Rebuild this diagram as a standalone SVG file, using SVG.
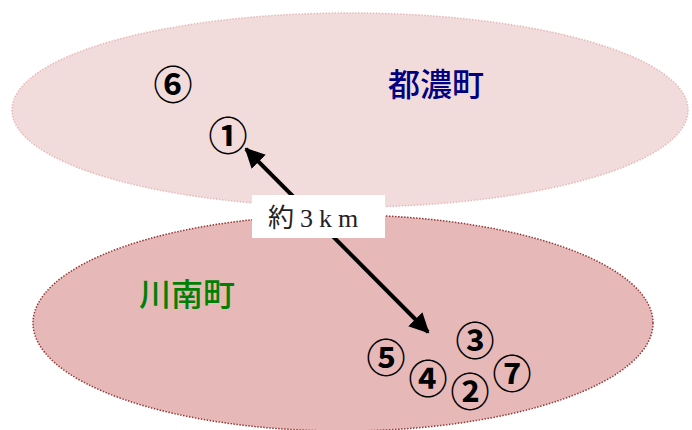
<svg xmlns="http://www.w3.org/2000/svg" width="692" height="430" viewBox="0 0 692 430">
<style>
.num{font-family:"Noto Sans CJK JP","Noto Sans",sans-serif;font-size:39px;font-weight:bold;fill:#000;text-anchor:middle;dominant-baseline:central}
.town{font-family:"Noto Sans CJK JP",sans-serif;font-size:32px;font-weight:500;text-anchor:middle;dominant-baseline:central}
</style>
<defs>
<marker id="ah" viewBox="0 0 10 10" refX="9" refY="5" markerWidth="5" markerHeight="5" orient="auto-start-reverse" markerUnits="strokeWidth">
<path d="M0,0 L10,5 L0,10 Z" fill="#000"/>
</marker>
</defs>
<rect width="692" height="430" fill="#fff"/>
<g id="tsuno-area">
<ellipse cx="350" cy="110" rx="338" ry="97" fill="#f2dcdb" stroke="#e6b9b8" stroke-width="1.5" stroke-dasharray="1.5 1.5"/>
<text class="town" x="436" y="82" fill="#000080">都濃町</text>
</g>
<g id="kawaminami-area">
<ellipse cx="343" cy="323" rx="310" ry="108" fill="#e6b9b8" stroke="#953735" stroke-width="1.5" stroke-dasharray="1.5 1.5"/>
<text class="town" x="187" y="292" fill="#008000">川南町</text>
</g>
<g id="connectors">
<line x1="246" y1="149" x2="428" y2="332" stroke="#000" stroke-width="4" marker-start="url(#ah)" marker-end="url(#ah)"/>
</g>
<g id="distance-label">
<rect x="252" y="195" width="133" height="43" fill="#fff"/>
<text x="268" y="227" font-family="'Liberation Serif','Noto Sans CJK JP',serif" font-size="26" letter-spacing="6" fill="#222">約3km</text>
</g>
<g id="n6"><text class="num" x="173" y="82">⑥</text></g>
<g id="n1"><text class="num" x="228" y="133">①</text></g>
<g id="n3"><text class="num" x="475" y="338">③</text></g>
<g id="n5"><text class="num" x="386" y="355">⑤</text></g>
<g id="n4"><text class="num" x="428" y="376">④</text></g>
<g id="n2"><text class="num" x="470" y="389">②</text></g>
<g id="n7"><text class="num" x="512" y="371">⑦</text></g>
</svg>
